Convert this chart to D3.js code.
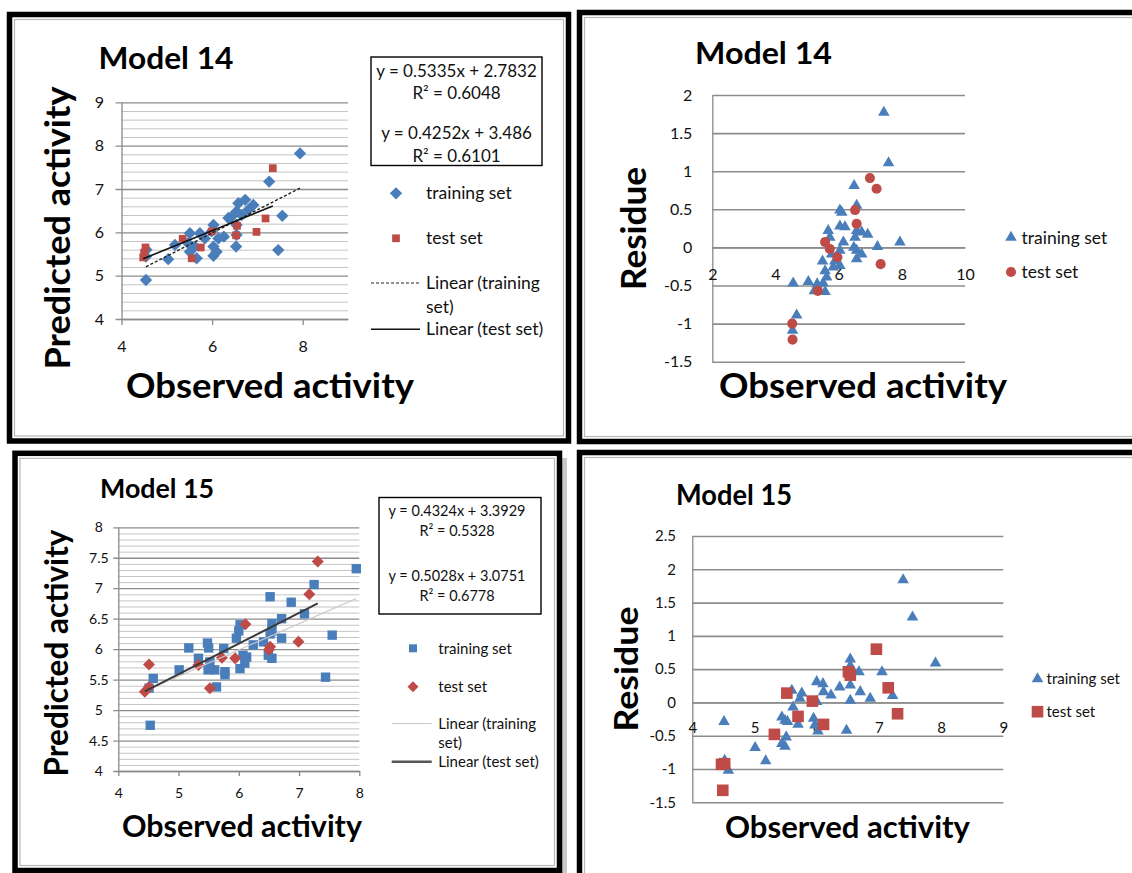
<!DOCTYPE html>
<html>
<head>
<meta charset="utf-8">
<script src="https://cdn.jsdelivr.net/npm/d3@7"></script>
<style>
  body { margin: 0; background: #fff; }
  svg { display: block; font-family: Lato, "Open Sans", sans-serif; }
</style>
</head>
<body>
<svg id="chart" width="1132" height="873"></svg>
<script>
// ---- Model 14: predicted vs observed ----
const m14TrainObs  = [7.94, 7.26, 7.55, 7.46, 4.54, 6.73, 6.58, 6.91, 6.80, 6.54, 6.43, 6.65, 6.36, 6.54, 6.54, 6.53, 6.03, 5.99, 6.03, 6.10, 6.03, 6.14, 6.26, 5.51, 5.73, 5.47, 5.66, 5.51, 5.18, 5.03, 5.62, 5.84, 4.54, 4.55];
const m14TrainPred = [7.82, 7.17, 6.38, 5.59, 4.90, 6.75, 6.67, 6.63, 6.52, 6.48, 6.36, 6.40, 6.33, 6.17, 5.94, 5.67, 6.17, 6.02, 5.67, 5.55, 5.46, 5.86, 5.90, 5.98, 5.98, 5.75, 5.40, 5.55, 5.71, 5.38, 5.67, 5.86, 5.44, 5.60];
const m14TestObs   = [7.34, 7.18, 6.98, 6.55, 6.53, 5.99, 5.75, 5.55, 5.35, 4.53, 4.50, 4.48];
const m14TestPred  = [7.48, 6.32, 6.01, 6.15, 5.93, 6.02, 5.65, 5.40, 5.85, 5.65, 5.52, 5.42];

// ---- Model 14: residues ----
const m14ResTrainObs = [7.43, 7.58, 6.49, 7.94, 7.23, 6.57, 6.04, 6.10, 6.04, 6.20, 5.67, 5.72, 6.57, 6.73, 6.92, 6.52, 6.15, 6.48, 6.57, 6.73, 6.57, 6.04, 6.04, 5.49, 5.78, 5.88, 5.57, 5.62, 5.51, 5.32, 5.04, 5.23, 5.57, 4.56, 4.67, 4.54, 5.83];
const m14ResTrain    = [1.77, 1.11, 0.81, 0.07, 0.01, 0.55, 0.49, 0.46, 0.28, 0.27, 0.22, 0.13, 0.22, 0.20, 0.17, 0.13, 0.07, 0.00, -0.04, -0.09, -0.15, -0.04, -0.24, -0.18, -0.09, -0.18, -0.31, -0.39, -0.47, -0.48, -0.45, -0.57, -0.58, -0.47, -0.89, -1.09, -0.26];
const m14ResTestObs  = [6.99, 7.20, 6.52, 6.57, 5.57, 5.72, 5.96, 7.33, 5.34, 4.53, 4.54];
const m14ResTest     = [0.91, 0.77, 0.49, 0.31, 0.07, -0.02, -0.13, -0.22, -0.57, -1.00, -1.21];

// ---- Model 15: predicted vs observed ----
const m15TrainObs  = [7.95, 7.25, 6.52, 6.87, 7.09, 7.55, 7.44, 4.53, 4.58, 4.51, 5.01, 5.17, 5.33, 5.48, 5.50, 5.52, 5.49, 5.60, 5.63, 5.77, 5.77, 5.75, 5.96, 6.02, 6.00, 6.02, 6.07, 6.13, 6.10, 6.24, 6.41, 6.49, 6.55, 6.55, 6.55, 6.52, 6.71, 6.71];
const m15TrainPred = [7.32, 7.06, 6.86, 6.77, 6.58, 6.23, 5.54, 4.75, 5.52, 5.36, 5.66, 6.02, 5.85, 6.10, 6.02, 5.79, 5.66, 5.66, 5.38, 5.63, 5.58, 6.01, 6.18, 6.40, 6.30, 5.68, 5.90, 5.87, 5.77, 6.07, 6.12, 5.90, 5.85, 6.42, 6.30, 6.25, 6.50, 6.18];
const m15TestObs   = [7.31, 7.17, 6.99, 6.11, 6.52, 6.50, 5.94, 5.72, 5.33, 5.52, 4.51, 4.51, 4.44];
const m15TestPred  = [7.44, 6.90, 6.12, 6.41, 6.04, 5.99, 5.85, 5.86, 5.74, 5.36, 5.75, 5.38, 5.30];

// ---- Model 15: residues ----
const m15ResTrainObs = [7.39, 7.54, 7.91, 6.54, 6.54, 6.68, 7.05, 6.37, 6.54, 6.70, 6.54, 6.86, 7.22, 6.00, 6.10, 6.11, 6.23, 6.00, 5.60, 5.76, 5.73, 5.62, 5.44, 5.49, 5.53, 5.70, 5.95, 5.97, 6.02, 6.48, 5.51, 5.44, 5.49, 5.01, 5.18, 4.51, 4.58, 4.52];
const m15ResTrain    = [1.84, 1.28, 0.59, 0.65, 0.55, 0.46, 0.46, 0.23, 0.26, 0.16, 0.03, 0.06, 0.10, 0.31, 0.28, 0.16, 0.11, 0.01, 0.18, 0.14, 0.06, -0.07, -0.22, -0.27, -0.29, -0.33, -0.24, -0.34, -0.43, -0.42, -0.52, -0.62, -0.66, -0.68, -0.88, -0.29, -1.02, -0.87];
const m15ResTestObs  = [6.96, 6.51, 6.54, 7.15, 7.30, 5.52, 5.93, 5.70, 6.11, 5.32, 4.47, 4.52, 4.49];
const m15ResTest     = [0.80, 0.46, 0.41, 0.22, -0.17, 0.14, 0.02, -0.21, -0.33, -0.48, -0.93, -0.92, -1.32];

// trendlines [slope, intercept] and R²
const m14TrainFit = [0.5335, 2.7832];
const m14TestFit  = [0.4252, 3.486];
const m15TrainFit = [0.4324, 3.3929];
const m15TestFit  = [0.5028, 3.0751];
const m14R2 = [0.6048, 0.6101];
const m15R2 = [0.5328, 0.6778];

// tick values
const m14PredTicks   = [4, 5, 6, 7, 8, 9];
const m14ObsTicks    = [4, 6, 8];
const m14ResTicks    = [-1.5, -1, -0.5, 0, 0.5, 1, 1.5, 2];
const m14ResObsTicks = [2, 4, 6, 8, 10];
const m15PredTicks   = [4, 4.5, 5, 5.5, 6, 6.5, 7, 7.5, 8];
const m15ObsTicks    = [4, 5, 6, 7, 8];
const m15ResTicks    = [-1.5, -1, -0.5, 0, 0.5, 1, 1.5, 2, 2.5];
const m15ResObsTicks = [4, 5, 6, 7, 8, 9];

const BLUE = '#4a7ebb', RED = '#be4b48';
const svg = d3.select('#chart');

function minorTicks(lo, hi, step) {
    return d3.range(lo, hi + 1e-9, step).filter(v => Math.abs(v / (step * 5) - Math.round(v / (step * 5))) > 1e-6);
}

function frame(x, y, w, h) {
    svg.append('rect')
        .attr('x', x).attr('y', y).attr('width', w).attr('height', h)
        .attr('fill', 'none').attr('stroke', '#000').attr('stroke-width', 5.5);
    svg.append('rect')
        .attr('x', x + 5).attr('y', y + 5).attr('width', w - 10).attr('height', h - 10)
        .attr('fill', 'none').attr('stroke', '#b8b8b8').attr('stroke-width', 1.2);
}

function symbolPath(type, size) {
    const t = type === 'triangle' ? d3.symbolTriangle : type === 'circle' ? d3.symbolCircle : d3.symbolSquare;
    return d3.symbol(t, size)();
}

function drawPanel(p) {
    const g = svg.append('g');
    const w = p.right - p.left;
    const x = d3.scaleLinear().domain(p.xDomain).range([p.left, p.right]);
    const y = d3.scaleLinear().domain(p.yDomain).range([p.bottom, p.top]);

    if (p.yMinor) {
        g.append('g')
            .attr('transform', `translate(${p.left},0)`)
            .call(d3.axisLeft(y).tickValues(p.yMinor).tickSize(-w).tickFormat(''))
            .call(a => a.select('.domain').remove())
            .selectAll('line').attr('stroke', '#c4c4c4').attr('stroke-width', 1);
    }

    const yAxisG = g.append('g')
        .attr('transform', `translate(${p.left},0)`)
        .call(d3.axisLeft(y).tickValues(p.yTicks).tickSize(-w).tickSizeOuter(0)
            .tickPadding(p.yPad).tickFormat(d => String(d)));
    yAxisG.attr('font-family', null).attr('font-size', p.tickFont);
    yAxisG.select('.domain').attr('stroke', '#8a8a8a').attr('stroke-width', 1.3);
    yAxisG.selectAll('.tick line')
        .attr('stroke', '#8c8c8c').attr('stroke-width', p.gridWidth)
        .attr('x1', -p.tickOut);
    yAxisG.selectAll('.tick text').attr('fill', '#111');
    if (p.yAnchorMiddle) {
        yAxisG.selectAll('.tick text').attr('text-anchor', 'middle');
    }

    const xAxisY = p.xAtZero ? y(0) : p.bottom;
    const xAxisG = g.append('g')
        .attr('transform', `translate(0,${xAxisY})`)
        .call(d3.axisBottom(x).tickValues(p.xTicks).tickSize(p.xTickLen).tickSizeOuter(0)
            .tickPadding(p.xPad).tickFormat(d => String(d)));
    xAxisG.attr('font-family', null).attr('font-size', p.tickFont);
    xAxisG.select('.domain').attr('stroke', '#8a8a8a').attr('stroke-width', 1.3);
    xAxisG.selectAll('.tick line').attr('stroke', '#8a8a8a').attr('stroke-width', 1.3);
    xAxisG.selectAll('.tick text').attr('fill', '#111');

    p.series.forEach(s => {
        g.append('g').selectAll('path')
            .data(d3.zip(s.xs, s.ys))
            .join('path')
            .attr('d', symbolPath(s.type, s.size))
            .attr('transform', d => `translate(${x(d[0])},${y(d[1])})` + (s.type === 'diamond' ? ' rotate(45)' : ''))
            .attr('fill', s.color);
    });

    (p.fits || []).forEach(f => {
        const ends = d3.extent(f.xs).map(v => [v, f.coef[0] * v + f.coef[1]]);
        g.append('path')
            .datum(ends)
            .attr('d', d3.line().x(d => x(d[0])).y(d => y(d[1])))
            .attr('fill', 'none')
            .attr('stroke', f.stroke)
            .attr('stroke-width', f.width)
            .attr('stroke-dasharray', f.dash || null);
    });

    // titles
    p.titles.forEach(t => {
        svg.append('text')
            .attr('transform', `translate(${t.x},${t.y})` + (t.rotate ? ' rotate(-90)' : ''))
            .attr('text-anchor', 'middle')
            .attr('font-weight', 'bold')
            .attr('font-size', t.size)
            .attr('textLength', t.len)
            .attr('lengthAdjust', 'spacingAndGlyphs')
            .attr('fill', '#000')
            .text(t.text);
    });

    // equation box
    if (p.eq) {
        const e = p.eq;
        svg.append('rect')
            .attr('x', e.x0).attr('y', e.y0).attr('width', e.x1 - e.x0).attr('height', e.y1 - e.y0)
            .attr('fill', '#fff').attr('stroke', '#000').attr('stroke-width', 1.4);
        e.lines.forEach((t, i) => {
            svg.append('text')
                .attr('x', e.cx).attr('y', e.ys[i]).attr('dy', '0.35em')
                .attr('text-anchor', 'middle')
                .attr('font-size', e.font)
                .attr('fill', '#111')
                .text(t);
        });
    }

    // legend
    const lg = p.legend;
    lg.items.forEach(it => {
        if (it.line) {
            svg.append('line')
                .attr('x1', lg.lineX[0]).attr('x2', lg.lineX[1])
                .attr('y1', it.y).attr('y2', it.y)
                .attr('stroke', it.line.stroke).attr('stroke-width', it.line.width)
                .attr('stroke-dasharray', it.line.dash || null);
        } else {
            svg.append('path')
                .attr('d', symbolPath(it.type, it.size))
                .attr('transform', `translate(${lg.markX},${it.y})` + (it.type === 'diamond' ? ' rotate(45)' : ''))
                .attr('fill', it.color);
        }
        it.label.forEach((t, i) => {
            svg.append('text')
                .attr('x', lg.textX).attr('y', it.y + i * lg.lineGap).attr('dy', '0.35em')
                .attr('font-size', lg.font)
                .attr('fill', '#111')
                .text(t);
        });
    });
}

// frames (bottom-left one has a soft shadow on its right side)
svg.append('rect').attr('x', 562).attr('y', 458).attr('width', 5).attr('height', 415).attr('fill', '#c9c9c9');
frame(9.5, 14.5, 559, 426.5);
frame(579.5, 12.5, 600, 429);
frame(15, 453.3, 544.5, 417.2);
frame(579.5, 452.5, 600, 460);

const eqText = (f) => `y = ${f[0]}x + ${f[1]}`;

// Model 14 predicted vs observed
drawPanel({
    left: 121.5, right: 348, top: 102.3, bottom: 319,
    xDomain: [4, 9], yDomain: [4, 9],
    xTicks: m14ObsTicks, yTicks: m14PredTicks, yMinor: minorTicks(4, 9, 0.2),
    tickOut: 6, yPad: 17.5, xTickLen: 6, xPad: 16, tickFont: 16, gridWidth: 1.3,
    series: [
        { xs: m14TrainObs, ys: m14TrainPred, type: 'diamond', size: 76, color: BLUE },
        { xs: m14TestObs, ys: m14TestPred, type: 'square', size: 60, color: RED }
    ],
    fits: [
        { xs: m14TrainObs, coef: m14TrainFit, stroke: '#222', width: 1.4, dash: '3,2' },
        { xs: m14TestObs, coef: m14TestFit, stroke: '#111', width: 1.6 }
    ],
    titles: [
        { text: 'Model 14', x: 166, y: 69, size: 30, len: 135 },
        { text: 'Observed activity', x: 270, y: 398, size: 35, len: 288 },
        { text: 'Predicted activity', x: 70, y: 228, size: 35, len: 283, rotate: true }
    ],
    eq: {
        x0: 371, x1: 542, y0: 57, y1: 165.5, cx: 456.5, font: 17,
        ys: [71, 93.3, 132.7, 156],
        lines: [eqText(m14TrainFit), `R² = ${m14R2[0]}`, eqText(m14TestFit), `R² = ${m14R2[1]}`]
    },
    legend: {
        markX: 396, textX: 426, lineX: [371, 420], font: 17.5, lineGap: 23.5,
        items: [
            { y: 193.3, type: 'diamond', size: 76, color: BLUE, label: ['training set'] },
            { y: 238.3, type: 'square', size: 60, color: RED, label: ['test set'] },
            { y: 283, line: { stroke: '#222', width: 1.2, dash: '3,2' }, label: ['Linear (training', 'set)'] },
            { y: 329.3, line: { stroke: '#111', width: 1.5 }, label: ['Linear (test set)'] }
        ]
    }
});

// Model 14 residues
drawPanel({
    left: 712.3, right: 965, top: 95, bottom: 361.7,
    xDomain: [2, 10], yDomain: [-1.5, 2], xAtZero: true,
    xTicks: m14ResObsTicks, yTicks: m14ResTicks,
    tickOut: 0, yPad: 20, xTickLen: 0, xPad: 21, tickFont: 16, gridWidth: 1.6,
    series: [
        { xs: m14ResTrainObs, ys: m14ResTrain, type: 'triangle', size: 58, color: BLUE },
        { xs: m14ResTestObs, ys: m14ResTest, type: 'circle', size: 80, color: RED }
    ],
    titles: [
        { text: 'Model 14', x: 763.5, y: 64, size: 30, len: 137 },
        { text: 'Observed activity', x: 863, y: 398, size: 35, len: 288 },
        { text: 'Residue', x: 646, y: 228.5, size: 35, len: 123, rotate: true }
    ],
    legend: {
        markX: 1011, textX: 1021.5, lineX: [0, 0], font: 17.5, lineGap: 0,
        items: [
            { y: 237.5, type: 'triangle', size: 58, color: BLUE, label: ['training set'] },
            { y: 272, type: 'circle', size: 80, color: RED, label: ['test set'] }
        ]
    }
});

// Model 15 predicted vs observed
drawPanel({
    left: 118.3, right: 359.3, top: 527.3, bottom: 771,
    xDomain: [4, 8], yDomain: [4, 8],
    xTicks: m15ObsTicks, yTicks: m15PredTicks, yMinor: minorTicks(4, 8, 0.1),
    tickOut: 5, yPad: 19.5, yAnchorMiddle: true, xTickLen: 5, xPad: 12, tickFont: 14, gridWidth: 1.3,
    series: [
        { xs: m15TrainObs, ys: m15TrainPred, type: 'square', size: 88, color: BLUE },
        { xs: m15TestObs, ys: m15TestPred, type: 'diamond', size: 72, color: RED }
    ],
    fits: [
        { xs: m15TrainObs, coef: m15TrainFit, stroke: '#c8c8c8', width: 1.1 },
        { xs: m15TestObs, coef: m15TestFit, stroke: '#3a3a3a', width: 2 }
    ],
    titles: [
        { text: 'Model 15', x: 157, y: 498, size: 27, len: 114 },
        { text: 'Observed activity', x: 242, y: 837, size: 31, len: 240 },
        { text: 'Predicted activity', x: 68, y: 653, size: 32, len: 247, rotate: true }
    ],
    eq: {
        x0: 379, x1: 541, y0: 497.5, y1: 614, cx: 457, font: 14.5,
        ys: [510.7, 531, 575.7, 596],
        lines: [eqText(m15TrainFit), `R² = ${m15R2[0]}`, eqText(m15TestFit), `R² = ${m15R2[1]}`]
    },
    legend: {
        markX: 413, textX: 438.3, lineX: [391.7, 431.7], font: 15, lineGap: 19.5,
        items: [
            { y: 648.3, type: 'square', size: 64, color: BLUE, label: ['training set'] },
            { y: 686.7, type: 'diamond', size: 60, color: RED, label: ['test set'] },
            { y: 723.5, line: { stroke: '#c8c8c8', width: 1.2 }, label: ['Linear (training', 'set)'] },
            { y: 761.7, line: { stroke: '#555', width: 2.5 }, label: ['Linear (test set)'] }
        ]
    }
});

// Model 15 residues
drawPanel({
    left: 692.3, right: 1003.3, top: 536, bottom: 802.3,
    xDomain: [4, 9], yDomain: [-1.5, 2.5], xAtZero: true,
    xTicks: m15ResObsTicks, yTicks: m15ResTicks,
    tickOut: 0, yPad: 16.3, xTickLen: 0, xPad: 20, tickFont: 15, gridWidth: 1.6,
    series: [
        { xs: m15ResTrainObs, ys: m15ResTrain, type: 'triangle', size: 58, color: BLUE },
        { xs: m15ResTestObs, ys: m15ResTest, type: 'square', size: 135, color: RED }
    ],
    titles: [
        { text: 'Model 15', x: 734, y: 505, size: 28, len: 116 },
        { text: 'Observed activity', x: 847.5, y: 838, size: 31, len: 245 },
        { text: 'Residue', x: 638, y: 669, size: 33, len: 125, rotate: true }
    ],
    legend: {
        markX: 1037.5, textX: 1046.5, lineX: [0, 0], font: 15, lineGap: 0,
        items: [
            { y: 679, type: 'triangle', size: 58, color: BLUE, label: ['training set'] },
            { y: 711.7, type: 'square', size: 135, color: RED, label: ['test set'] }
        ]
    }
});
</script>
</body>
</html>
